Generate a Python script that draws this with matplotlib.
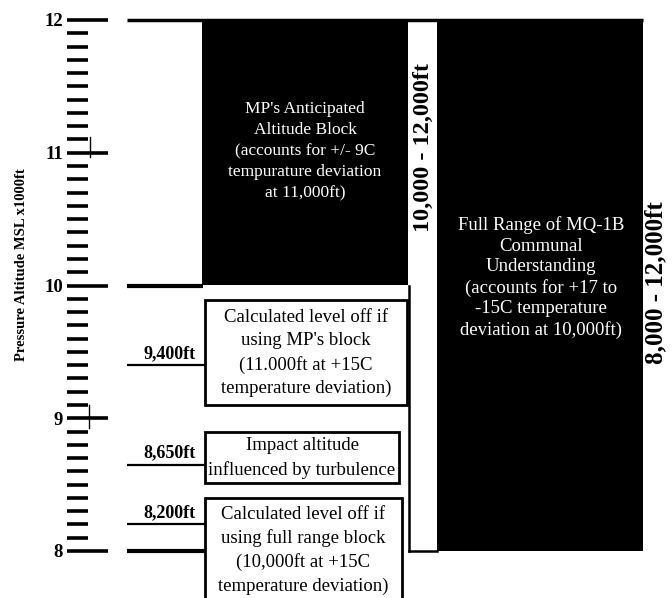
import matplotlib
matplotlib.use("Agg")
import matplotlib.pyplot as plt
from matplotlib.patches import Rectangle
import numpy as np

# ---------------- data ----------------
major_ticks = [8, 9, 10, 11, 12]
tick_labels = ["8", "9", "10", "11", "12"]
minor_step = 0.1                      # minor ticks every 100 ft
mp_block = (10, 12)                   # MP's anticipated altitude block (x1000 ft)
full_block = (8, 12)                  # full range block (x1000 ft)
level_values = [9.4, 8.65, 8.2]       # marked altitudes (x1000 ft)
level_labels = ["9,400ft", "8,650ft", "8,200ft"]
box_texts = [
    "Calculated level off if\nusing MP's block\n(11.000ft at +15C\ntemperature deviation)",
    "Impact altitude\ninfluenced by turbulence",
    "Calculated level off if\nusing full range block\n(10,000ft at +15C\ntemperature deviation)",
]
mp_text = "MP's Anticipated\nAltitude Block\n(accounts for +/- 9C\ntempurature deviation\nat 11,000ft)"
full_text = ("Full Range of MQ-1B\nCommunal\nUnderstanding\n(accounts for +17 to\n"
             "-15C temperature\ndeviation at 10,000ft)")
mp_range_label = "10,000 - 12,000ft"
full_range_label = "8,000 - 12,000ft"
ylabel = "Pressure Altitude MSL x1000ft"

# ---------------- layout ----------------
plt.rcParams['font.family'] = ['Liberation Serif', 'DejaVu Serif']
W, H, DPI = 672, 598, 100
PX_PER_K = 132.75
Y12 = 20
ymax = 12 + Y12 / PX_PER_K
ymin = 12 - (H - Y12) / PX_PER_K
pt = 72 / DPI

fig = plt.figure(figsize=(W / DPI, H / DPI), dpi=DPI)
ax_left = 67
ax = fig.add_axes([ax_left / W, 0, (W - ax_left) / W, 1])
ax.set_xlim(ax_left, W)
ax.set_ylim(ymin, ymax)
for s in ax.spines.values():
    s.set_visible(False)
ax.set_xticks([])
ax.set_yticks(major_ticks)
ax.set_yticklabels(tick_labels)
ax.set_yticks(np.arange(major_ticks[0], major_ticks[-1] + 1e-6, minor_step), minor=True)
ax.tick_params(axis='y', which='major', direction='in', length=41 * pt, width=2.6,
               pad=4 * pt, labelsize=13.5)
ax.tick_params(axis='y', which='minor', direction='in', length=21 * pt, width=2.6)
for lbl in ax.get_yticklabels():
    lbl.set_fontweight('bold')

# little vertical marks on the scale
ax.plot([90, 90], [10.97, 11.12], color='k', lw=1.0)
ax.plot([89, 89], [8.93, 9.10], color='k', lw=1.0)

fig.text(22 / W, 1 - 265 / H, ylabel, rotation=90, ha='center', va='center',
         fontsize=10.5, fontweight='bold')

# black blocks
ax.add_patch(Rectangle((202, mp_block[0]), 206, mp_block[1] - mp_block[0],
                       facecolor='black', edgecolor='none'))
ax.add_patch(Rectangle((437, full_block[0]), 206, full_block[1] - full_block[0],
                       facecolor='black', edgecolor='none'))

# horizontal reference lines
ax.plot([127, 643], [mp_block[1], mp_block[1]], color='k', lw=2.5, solid_capstyle='butt')
ax.plot([127, 203], [mp_block[0], mp_block[0]], color='k', lw=3, solid_capstyle='butt')
ax.plot([127, 205], [full_block[0], full_block[0]], color='k', lw=3, solid_capstyle='butt')
for v, lab in zip(level_values, level_labels):
    ax.plot([127, 205], [v, v], color='k', lw=1.6, solid_capstyle='butt')
    ax.annotate(lab, xy=(196, v), xytext=(0, 3 * pt), textcoords='offset points',
                ha='right', va='bottom', fontsize=13, fontweight='bold')

# bracket between the blocks
ax.plot([409, 409], [mp_block[0], full_block[0]], color='k', lw=1.8)
ax.plot([409, 437], [full_block[0], full_block[0]], color='k', lw=1.8)

# white annotation boxes (layout extents)
boxes = [
    (205, 407, 9.10, 9.89),
    (205, 399, 8.51, 8.90),
    (205, 402, ymin - 0.2, 8.40),
]
text_centers = [9.49, 8.70, 8.005]
for (x0, x1, y0, y1), txt, yc in zip(boxes, box_texts, text_centers):
    ax.add_patch(Rectangle((x0, y0), x1 - x0, y1 - y0, facecolor='white',
                           edgecolor='black', lw=2))
    ax.text((x0 + x1) / 2, yc, txt, ha='center', va='center', fontsize=13.5,
            linespacing=1.47)

# texts in black blocks
ax.text(305, 11.01, mp_text, ha='center', va='center', color='white',
        fontsize=12.5, linespacing=1.42)
ax.text(541, 10.06, full_text, ha='center', va='center', color='white',
        fontsize=13.5, linespacing=1.26)

# range labels
ax.text(423, 11.04, mp_range_label, rotation=90, ha='center',
        va='center', fontsize=17.5, fontweight='bold')
ax.text(656, 10.02, full_range_label, rotation=90, ha='center',
        va='center', fontsize=18, fontweight='bold')

fig.savefig("out.png", dpi=DPI)
